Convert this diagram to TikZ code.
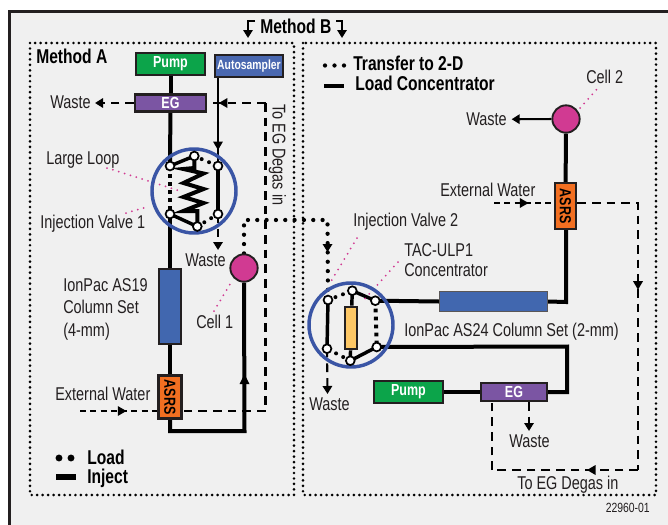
\documentclass[tikz,border=0pt]{standalone}
\usepackage{fontspec}
\setmainfont[FakeStretch=0.78]{Liberation Sans}
\usetikzlibrary{arrows.meta,decorations.markings}
\pgfdeclarelayer{bg}\pgfdeclarelayer{fg}\pgfsetlayers{bg,main,fg}
\definecolor{panel}{HTML}{F0F0F0}
\definecolor{ink}{HTML}{231F20}
\definecolor{pgreen}{HTML}{0CA44A}
\definecolor{pblue}{HTML}{4A68B0}
\definecolor{ppurple}{HTML}{7B55A3}
\definecolor{porange}{HTML}{F26F21}
\definecolor{pcol}{HTML}{4167AF}
\definecolor{pyellow}{HTML}{FDC765}
\definecolor{pmag}{HTML}{D13A92}
\definecolor{pring}{HTML}{3A55A5}
\tikzset{
  x=.75pt,y=-.75pt,
  lbl/.style={inner sep=0,text=ink,font=\fontsize{13.9}{16}\selectfont,anchor=base west,align=left},
  blbl/.style={inner sep=0,text=black,font=\fontsize{15}{16}\selectfont\bfseries,anchor=base west},
  boxn/.style={draw=ink,line width=1.8pt,inner sep=0,text=white,font=\fontsize{12}{14}\selectfont\bfseries},
  asrsbox/.style={boxn,fill=porange,text=black,minimum width=17pt,minimum height=32.5pt},
  colbox/.style={boxn,fill=pcol},
  cell/.style={circle,draw=ink,line width=1.4pt,fill=pmag,minimum size=20.5pt,inner sep=0},
  port/.style={circle,draw=black,line width=1.3pt,fill=white,minimum size=6.6pt,inner sep=0},
  thick1/.style={line width=3pt,black},
  thin1/.style={line width=1.6pt,black},
  valveline/.style={line width=2.6pt,black},
  dash1/.style={line width=1.9pt,black,dash pattern=on 6.5pt off 4.5pt},
  dash2/.style={line width=1.4pt,black,dash pattern=on 4.5pt off 3.2pt},
  boxdots/.style={line width=2.2pt,black,line cap=round,dash pattern=on 0pt off 4.1pt},
  rounddots/.style={line width=3.2pt,black,line cap=round,dash pattern=on 0pt off 7pt},
  vdots/.style={line width=3pt,black,line cap=round,dash pattern=on 0pt off 6pt},
  squaredots/.style={line width=3pt,black,dash pattern=on 2.8pt off 3.2pt},
  pinkdots/.style={line width=1.5pt,pmag,line cap=round,dash pattern=on 0pt off 4.6pt},
  ring/.style={circle,draw=pring,line width=2.6pt,minimum size=63pt,inner sep=0},
  tipat/.style={postaction={decorate},decoration={markings,mark=at position #1 with {\arrow{Triangle[length=6.5pt,width=7pt]}}}},
  endtip/.style={-{Triangle[length=6pt,width=7pt]}}
}
\begin{document}
\begin{tikzpicture}
\useasboundingbox (0,0) rectangle (668,525);
\begin{pgfonlayer}{bg}
\fill[white] (0,0) rectangle (668,525);
\fill[panel] (9.5,11.5) rectangle (668,525);
\draw[line width=2.4pt,ink] (9.5,525) -- (9.5,11.5) -- (668,11.5);
\end{pgfonlayer}
% method frames
\draw[boxdots] (30,43) rectangle (294,495);
\draw[boxdots] (303,43) rectangle (656,495);
\begin{pgfonlayer}{fg}
% Method A
\node[boxn,fill=pgreen,minimum width=51.5pt,minimum height=16.5pt] (pump1) at (170.5,64) {Pump};
\node[boxn,fill=pblue,minimum width=51pt,minimum height=16.5pt,font=\fontsize{10}{12}\selectfont\bfseries] (auto) at (249,66) {Autosampler};
\node[boxn,fill=ppurple,minimum width=53pt,minimum height=13pt] (eg1) at (170.5,103) {EG};
\node[colbox,minimum width=16.5pt,minimum height=56pt] (col1) at (170,306.5) {};
\node[asrsbox] (asrs1) at (170,397) {\rotatebox[origin=c]{-90}{ASRS}};
\node[cell] (cell1) at (244,268) {};
\node[ring] (v1) at (194,191) {};
\node[port] (p1a) at (170,166) {};
\node[port] (p1b) at (194.3,156) {};
\node[port] (p1c) at (218,166) {};
\node[port] (p1d) at (218,214) {};
\node[port] (p1e) at (197.3,226.5) {};
\node[port] (p1f) at (170,214) {};
% Method B
\node[cell] (cell2) at (566,119) {};
\node[asrsbox,minimum width=16pt,minimum height=34.5pt] (asrs2) at (565.5,206) {\rotatebox[origin=c]{-90}{ASRS}};
\node[colbox,draw=ink!75,line width=.9pt,minimum width=81pt,minimum height=15pt] (col2) at (493.5,301.5) {};
\node[boxn,fill=pgreen,minimum width=51.5pt,minimum height=16.5pt] (pump2) at (408.5,392) {Pump};
\node[boxn,fill=ppurple,minimum width=49.5pt,minimum height=13.5pt] (eg2) at (514,392) {EG};
\node[ring] (v2) at (351,325) {};
\node[boxn,fill=pyellow,minimum width=9.5pt,minimum height=32pt,line width=1.5pt] (conc) at (351,328) {};
\node[port] (p2a) at (328,300) {};
\node[port] (p2b) at (352.3,290.7) {};
\node[port] (p2c) at (375.3,300.7) {};
\node[port] (p2d) at (376.7,347) {};
\node[port] (p2e) at (350.3,360.7) {};
\node[port] (p2f) at (327,348.7) {};
\end{pgfonlayer}
% labels
\node[blbl] at (36,63) {Method A};
\node[blbl] at (260,33) {Method B};
\node[lbl] (w1) at (50,108.5) {Waste};
\node[lbl] at (46,164) {Large Loop};
\node[lbl] at (40,228) {Injection Valve 1};
\node[lbl] (w2) at (185,266) {Waste};
\node[lbl] (col1t) at (63,336) {IonPac AS19\\[.6pt]Column Set\\[.6pt](4-mm)};
\node[lbl] at (196,328) {Cell 1};
\node[lbl] at (55,400) {External Water};
\node[blbl] at (87,464) {Load};
\node[blbl] at (87,483) {Inject};
\node[lbl,rotate=-90,anchor=base west] at (272.5,104) {To EG Degas in};
\node[blbl] at (353,70) {Transfer to 2-D};
\node[blbl] at (355,90) {Load Concentrator};
\node[lbl] at (586,83) {Cell 2};
\node[lbl] (w3) at (466,125.5) {Waste};
\node[lbl] at (440,196) {External Water};
\node[lbl] at (353,226) {Injection Valve 2};
\node[lbl] at (404,256) {TAC-ULP1};
\node[lbl] at (404,276) {Concentrator};
\node[lbl] at (404,336) {IonPac AS24 Column Set (2-mm)};
\node[lbl] (w4) at (309,410) {Waste};
\node[lbl] (w5) at (509,447) {Waste};
\node[lbl] at (517,489) {To EG Degas in};
\node[inner sep=0,text=ink,font=\fontsize{10}{12}\selectfont,anchor=base east] at (650,512) {22960-01};
% coordinates
\coordinate (xa) at (80,411);
\coordinate (ca) at (265.5,103);
\coordinate (cb) at (265.5,411);
\coordinate (cc) at (170,431);
\coordinate (cd) at (244.5,431);
\coordinate (ce) at (244,220);
\coordinate (cf) at (327.5,220);
\coordinate (xb) at (494,203);
\coordinate (cg) at (638,203);
\coordinate (ch) at (638,470);
\coordinate (ci) at (492,470);
\coordinate (cj) at (566,302);
\coordinate (ck) at (567,346.5);
\coordinate (cl) at (567,392);
\coordinate (wa) at (95,103);
% Method A lines
\draw[thick1] (pump1) -- (eg1);
\draw[thick1] (eg1) -- (p1a.center);
\draw[thick1] (p1f.center) -- (col1);
\draw[thick1] (col1) -- (asrs1);
\draw[thick1,line join=miter] (asrs1.south) -- (cc) -- (cd) -- (cell1.south);
\draw[thin1,tipat=.82] (p1c.center |- auto.south) -- (p1c.center);
\draw[endtip,dash1] (eg1.west) -- (wa);
\draw[dash1] (ca) -- (cb) -- (asrs1.east |- cb);
\draw[dash1,tipat=.8] (ca) -- (eg1.east);
\draw[dash2,tipat=.6] (xa) -- (asrs1.west |- xa);
\draw[endtip,dash1,line width=1.6pt] (p1d.center) -- (218,250);
\fill[black] (244.5,374) -- (239.5,384) -- (249.5,384) -- cycle;
% valve 1
\draw[valveline] (p1a.center) -- (p1b.center);
\draw[valveline] (p1f.center) -- (p1e.center);
\draw[valveline] (p1c.center) -- (p1d.center);
\draw[vdots] (p1b.center) -- (p1c.center);
\draw[vdots] (p1d.center) -- (p1e.center);
\draw[squaredots] (p1a.center) -- (p1f.center);
\draw[line width=3pt,black,line join=miter] (p1b.center) -- (194.3,168) -- (183.5,169) -- (203.5,173.5) -- (183.5,183) -- (203.5,189) -- (183.5,197) -- (203.5,203) -- (183.5,211) -- (197.3,211) -- (p1e.center);
% transfer
\draw[rounddots] (cell1.north) -- (ce) -- (cf) -- (p2a.center);
\fill[black] (327.5,252) -- (322.5,244) -- (332.5,244) -- cycle;
% Method B lines
\draw[thick1] (cell2) -- (asrs2);
\draw[thin1,endtip] (cell2) -- ([xshift=3.5pt]w3.east);
\draw[thick1,line join=miter] (cell2 |- asrs2.south) -- (cj) -- (col2.east);
\draw[thick1] (col2.west) -- (p2c.center);
\draw[thick1,line join=miter] (p2d.center) -- (ck) -- (cl) -- (eg2.east);
\draw[thick1] (pump2) -- (eg2);
\draw[dash2,tipat=.58] (xb) -- (asrs2.west |- xb);
\draw[dash1,tipat=.45] (asrs2.east |- cg) -- (cg) -- (ch);
\draw[dash1,tipat=.35] (ch) -- (ci);
\draw[dash1] (ci) -- (ci |- eg2.south);
\draw[endtip,dash1,line width=1.6pt] (529,402) -- (529,431);
\draw[endtip,dash1,line width=1.6pt] (p2f.center) -- (327.5,394);
% valve 2
\draw[valveline] (p2a.center) -- (p2f.center);
\draw[valveline] (p2b.center) -- (p2c.center);
\draw[valveline] (p2d.center) -- (p2e.center);
\draw[valveline] (p2b.center) -- (conc);
\draw[valveline] (conc) -- (p2e.center);
\draw[vdots] (p2a.center) -- (p2b.center);
\draw[vdots] (p2e.center) -- (p2f.center);
\draw[squaredots] (p2c.center) -- (p2d.center);
% pink leaders
\draw[pinkdots] (107,168) -- (180,191);
\draw[pinkdots] (126,213) -- (147,207);
\draw[pinkdots] (214,311) -- (232,281);
\draw[pinkdots] (580,108) -- (598,88);
\draw[pinkdots] (357,238) -- (330,283);
\draw[pinkdots] (398,262) -- (362,302);
% method B arrows
\coordinate (la) at (255,21);\coordinate (lb) at (248,21);\coordinate (lc) at (248,38);
\coordinate (ra) at (336,21);\coordinate (rb) at (342,21);\coordinate (rc) at (342,38);
\draw[thin1,endtip] (la) -- (lb) -- (lc);
\draw[thin1,endtip] (ra) -- (rb) -- (rc);
% legends
\fill[black] (59,458) circle (2.6pt) (71,458) circle (2.6pt);
\coordinate (li1) at (56,477);\coordinate (li2) at (76,477);
\draw[line width=4.4pt,black] (li1) -- (li2);
\fill[black] (325,65.5) circle (1.6pt) (334.5,65.5) circle (1.6pt) (344,65.5) circle (1.6pt);
\coordinate (lc1) at (324,86);\coordinate (lc2) at (344,86);
\draw[line width=3pt,black] (lc1) -- (lc2);
\end{tikzpicture}
\end{document}
